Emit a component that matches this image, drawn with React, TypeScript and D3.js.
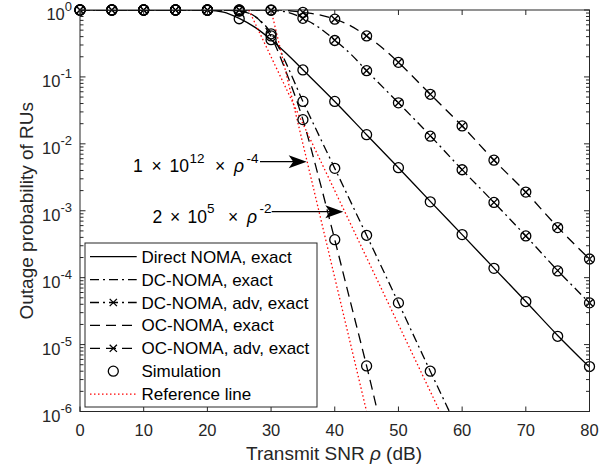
import React from "react";
import * as d3 from "d3";

// ---------- data ----------
const xTicks = [0, 10, 20, 30, 40, 50, 60, 70, 80];
const yTickExps = [0, -1, -2, -3, -4, -5, -6];
const markerSnr = [0, 5, 10, 15, 20, 25, 30, 35, 40, 45, 50, 55, 60, 65, 70, 75, 80];

// Direct NOMA, exact
const directX = [0, 5, 10, 15, 17.5, 20, 22.5, 25, 27.5, 30, 32.5, 35, 40, 45, 50, 55, 60, 65, 70, 75, 80];
const directY = [1, 1, 1, 1, 0.998, 0.99, 0.93, 0.75, 0.55, 0.36, 0.22, 0.128, 0.043, 0.0137, 0.0044, 0.00138, 4.4e-4, 1.39e-4, 4.4e-5, 1.37e-5, 4.6e-6];

// DC-NOMA, exact
const dcExactX = [0, 5, 10, 15, 20, 22.5, 25, 27.5, 30, 32.5, 35, 37.5, 40, 45, 50, 55, 60];
const dcExactY = [1, 1, 1, 1, 1, 0.998, 0.975, 0.8, 0.45, 0.15, 0.043, 0.0135, 0.0043, 4.3e-4, 4.2e-5, 4.0e-6, 4.0e-7];

// DC-NOMA, adv, exact
const dcAdvX = [0, 5, 10, 15, 20, 25, 27.5, 30, 32.5, 35, 37.5, 40, 42.5, 45, 50, 55, 60, 65, 70, 75, 80];
const dcAdvY = [1, 1, 1, 1, 1, 1, 0.998, 0.99, 0.93, 0.75, 0.55, 0.355, 0.22, 0.124, 0.041, 0.0132, 0.0041, 0.00133, 4.2e-4, 1.28e-4, 4.2e-5];

// OC-NOMA, exact
const ocExactX = [0, 5, 10, 15, 20, 22.5, 25, 27.5, 30, 32.5, 35, 37.5, 40, 42.5, 45, 47.5];
const ocExactY = [1, 1, 1, 1, 1, 0.997, 0.965, 0.8, 0.4, 0.11, 0.023, 0.0031, 3.7e-4, 4.2e-5, 4.8e-6, 4.8e-7];

// OC-NOMA, adv, exact
const ocAdvX = [0, 5, 10, 15, 20, 25, 30, 32.5, 35, 37.5, 40, 42.5, 45, 47.5, 50, 55, 60, 65, 70, 75, 80];
const ocAdvY = [1, 1, 1, 1, 1, 1, 1, 0.985, 0.92, 0.85, 0.73, 0.58, 0.41, 0.27, 0.165, 0.055, 0.0185, 0.0057, 0.0019, 5.7e-4, 1.9e-4];

// Simulation points
const simDirect = [1, 1, 1, 1, 0.99, 0.74, 0.36, 0.127, 0.043, 0.0137, 0.0044, 0.00136, 4.4e-4, 1.38e-4, 4.4e-5, 1.33e-5, 4.7e-6];
const simDcExact = [1, 1, 1, 1, 1, 0.97, 0.44, 0.043, 0.0043, 4.3e-4, 4.2e-5, 4.0e-6];
const simDcAdv = [1, 1, 1, 1, 1, 1, 0.99, 0.75, 0.35, 0.124, 0.041, 0.013, 0.0041, 0.00133, 4.2e-4, 1.26e-4, 4.2e-5];
const simOcExact = [1, 1, 1, 1, 1, 0.965, 0.41, 0.023, 3.7e-4, 4.8e-6];
const simOcAdv = [1, 1, 1, 1, 1, 1, 1, 0.92, 0.73, 0.41, 0.165, 0.055, 0.0185, 0.0057, 0.0019, 5.6e-4, 1.9e-4];

// Reference lines (straight in log-dB space)
const ref4X = [30, 45];
const ref4Y = [1, 1e-6];
const ref2X = [26.5, 56.5];
const ref2Y = [1, 1e-6];

const legendLabels = [
  "Direct NOMA, exact",
  "DC-NOMA, exact",
  "DC-NOMA, adv, exact",
  "OC-NOMA, exact",
  "OC-NOMA, adv, exact",
  "Simulation",
  "Reference line",
];

// ---------- styles ----------
const FONT = "'Liberation Sans', Arial, Helvetica, sans-serif";
const AX = "#262626";
const LW = 1.3;
const DASH = "10,6";
const DASHDOT = "9,4,2,4";
const DOT = "1.5,2.5";

export default function App() {
  const W = 613;
  const H = 472;
  const L = 80, R = 589.5, T = 10, B = 411.5;
  const x = d3.scaleLinear().domain([0, 80]).range([L, R]);
  const y = d3.scaleLog().domain([1e-6, 1]).range([B, T]);

  const mk = (xs: number[], ys: number[]) => xs.map((v, i) => [v, ys[i]] as [number, number]);
  const line = d3
    .line<[number, number]>()
    .x((d) => x(d[0]))
    .y((d) => y(d[1]))
    .curve(d3.curveMonotoneX);
  const straight = d3
    .line<[number, number]>()
    .x((d) => x(d[0]))
    .y((d) => y(d[1]));

  const lookup = (xs: number[], ys: number[], v: number) => ys[xs.indexOf(v)];

  const curves = [
    { d: line(mk(directX, directY)), dash: undefined },
    { d: line(mk(dcExactX, dcExactY)), dash: DASHDOT },
    { d: line(mk(dcAdvX, dcAdvY)), dash: DASHDOT },
    { d: line(mk(ocExactX, ocExactY)), dash: DASH },
    { d: line(mk(ocAdvX, ocAdvY)), dash: DASH },
  ];

  const sims = [simDirect, simDcExact, simDcAdv, simOcExact, simOcAdv];
  const circles: [number, number][] = [];
  sims.forEach((s) =>
    s.forEach((v, i) => {
      if (v >= 1e-6) circles.push([markerSnr[i], v]);
    })
  );
  const crosses: [number, number][] = [];
  markerSnr.forEach((s) => {
    crosses.push([s, lookup(dcAdvX, dcAdvY, s)]);
    crosses.push([s, lookup(ocAdvX, ocAdvY, s)]);
  });

  const xMark = (cx: number, cy: number, k: string) => (
    <path
      key={k}
      d={`M${cx - 3.6},${cy - 3.6}L${cx + 3.6},${cy + 3.6}M${cx - 3.6},${cy + 3.6}L${cx + 3.6},${cy - 3.6}`}
      stroke="#000"
      strokeWidth={LW}
      fill="none"
    />
  );

  // minor ticks
  const minor: number[] = [];
  for (let k = -6; k < 0; k++) for (let m = 2; m <= 9; m++) minor.push(m * Math.pow(10, k));

  // legend
  const lgX = 85, lgY = 243, lgW = 232, lgH = 164;
  const rowY = (i: number) => 256.7 + i * 22.9;
  const sx0 = 90, sx1 = 136.7, sxm = 113.3, tx = 141.5;

  const arrowHead = (tipX: number, yy: number, k: string) => (
    <path
      key={k}
      d={`M${tipX},${yy}L${tipX - 18},${yy - 6.5}L${tipX - 13.5},${yy}L${tipX - 18},${yy + 6.5}Z`}
      fill="#000"
    />
  );

  return (
    <svg
      width={W}
      height={H}
      viewBox={`0 0 ${W} ${H}`}
      style={{ position: "absolute", left: 0, top: 0, background: "#fff" }}
      fontFamily={FONT}
    >
      <rect x={0} y={0} width={W} height={H} fill="#fff" />
      <defs>
        <clipPath id="plotClip">
          <rect x={L} y={T} width={R - L} height={B - T} />
        </clipPath>
      </defs>

      {/* curves */}
      <g clipPath="url(#plotClip)" fill="none">
        {curves.map((c, i) => (
          <path key={i} d={c.d || ""} stroke="#000" strokeWidth={LW} strokeDasharray={c.dash} />
        ))}
        <path d={straight(mk(ref4X, ref4Y)) || ""} stroke="#ff0000" strokeWidth={LW} strokeDasharray={DOT} />
        <path d={straight(mk(ref2X, ref2Y)) || ""} stroke="#ff0000" strokeWidth={LW} strokeDasharray={DOT} />
      </g>

      {/* markers */}
      <g>
        {crosses.map((p, i) => xMark(x(p[0]), y(p[1]), "x" + i))}
        {circles.map((p, i) => (
          <circle key={"c" + i} cx={x(p[0])} cy={y(p[1])} r={5} fill="none" stroke="#000" strokeWidth={LW} />
        ))}
      </g>

      {/* axes box and ticks */}
      <g stroke={AX} strokeWidth={1}>
        <rect x={L} y={T} width={R - L} height={B - T} fill="none" />
        {xTicks.map((t) => (
          <g key={"xt" + t}>
            <line x1={x(t)} x2={x(t)} y1={B} y2={B - 5} />
            <line x1={x(t)} x2={x(t)} y1={T} y2={T + 5} />
          </g>
        ))}
        {yTickExps.map((e) => (
          <g key={"yt" + e}>
            <line x1={L} x2={L + 5.5} y1={y(Math.pow(10, e))} y2={y(Math.pow(10, e))} />
            <line x1={R} x2={R - 5.5} y1={y(Math.pow(10, e))} y2={y(Math.pow(10, e))} />
          </g>
        ))}
        {minor.map((v, i) => (
          <g key={"mt" + i}>
            <line x1={L} x2={L + 3.5} y1={y(v)} y2={y(v)} />
            <line x1={R} x2={R - 3.5} y1={y(v)} y2={y(v)} />
          </g>
        ))}
      </g>

      {/* tick labels */}
      <g fill={AX} fontSize={16.5}>
        {xTicks.map((t) => (
          <text key={"xl" + t} x={x(t)} y={436} textAnchor="middle">
            {t}
          </text>
        ))}
        {yTickExps.map((e) => (
          <text key={"yl" + e} x={72} y={y(Math.pow(10, e)) + 10} textAnchor="end">
            10
            <tspan dy={-9} fontSize={13}>
              {e}
            </tspan>
          </text>
        ))}
      </g>

      {/* axis labels */}
      <text x={334} y={460} textAnchor="middle" fontSize={19} fill={AX}>
        Transmit SNR <tspan fontStyle="italic">ρ</tspan> (dB)
      </text>
      <text
        transform={`translate(33,${(T + B) / 2}) rotate(-90)`}
        textAnchor="middle"
        fontSize={19}
        fill={AX}
      >
        Outage probability of RUs
      </text>

      {/* annotations */}
      <g fill="#000" fontSize={17.5}>
        <line x1={260} x2={295} y1={161.7} y2={161.7} stroke="#000" strokeWidth={1.2} />
        {arrowHead(306.7, 161.7, "a1")}
        <text x={133} y={171.7}>1</text>
        <text x={156.7} y={171.7} textAnchor="middle">×</text>
        <text x={169.5} y={171.7}>10</text>
        <text x={189.5} y={163} fontSize={13.5}>12</text>
        <text x={220} y={171.7} textAnchor="middle">×</text>
        <text x={234} y={171.7} fontStyle="italic">ρ</text>
        <text x={246.5} y={163} fontSize={13.5}>-4</text>

        <line x1={271.7} x2={331} y1={211.7} y2={211.7} stroke="#000" strokeWidth={1.2} />
        {arrowHead(343.3, 211.7, "a2")}
        <text x={152.5} y={223}>2</text>
        <text x={175} y={223} textAnchor="middle">×</text>
        <text x={187.5} y={223}>10</text>
        <text x={207} y={213} fontSize={13.5}>5</text>
        <text x={233} y={223} textAnchor="middle">×</text>
        <text x={247} y={223} fontStyle="italic">ρ</text>
        <text x={259.5} y={213} fontSize={13.5}>-2</text>
      </g>

      {/* legend */}
      <g>
        <rect x={lgX} y={lgY} width={lgW} height={lgH} fill="#fff" stroke={AX} strokeWidth={1} />
        {legendLabels.map((lab, i) => {
          const yy = rowY(i);
          let sample: React.ReactNode = null;
          if (i === 0) sample = <line x1={sx0} x2={sx1} y1={yy} y2={yy} stroke="#000" strokeWidth={LW} />;
          if (i === 1 || i === 2)
            sample = <line x1={sx0} x2={sx1} y1={yy} y2={yy} stroke="#000" strokeWidth={LW} strokeDasharray={DASHDOT} />;
          if (i === 3 || i === 4)
            sample = <line x1={sx0} x2={sx1} y1={yy} y2={yy} stroke="#000" strokeWidth={LW} strokeDasharray={DASH} />;
          if (i === 6)
            sample = <line x1={sx0} x2={sx1} y1={yy} y2={yy} stroke="#ff0000" strokeWidth={LW} strokeDasharray={DOT} />;
          return (
            <g key={"lg" + i}>
              {sample}
              {(i === 2 || i === 4) && xMark(sxm, yy, "lx" + i)}
              {i === 5 && <circle cx={sxm} cy={yy} r={5} fill="none" stroke="#000" strokeWidth={LW} />}
              <text x={tx} y={yy + 6} fontSize={17} fill="#000">
                {lab}
              </text>
            </g>
          );
        })}
      </g>
    </svg>
  );
}
